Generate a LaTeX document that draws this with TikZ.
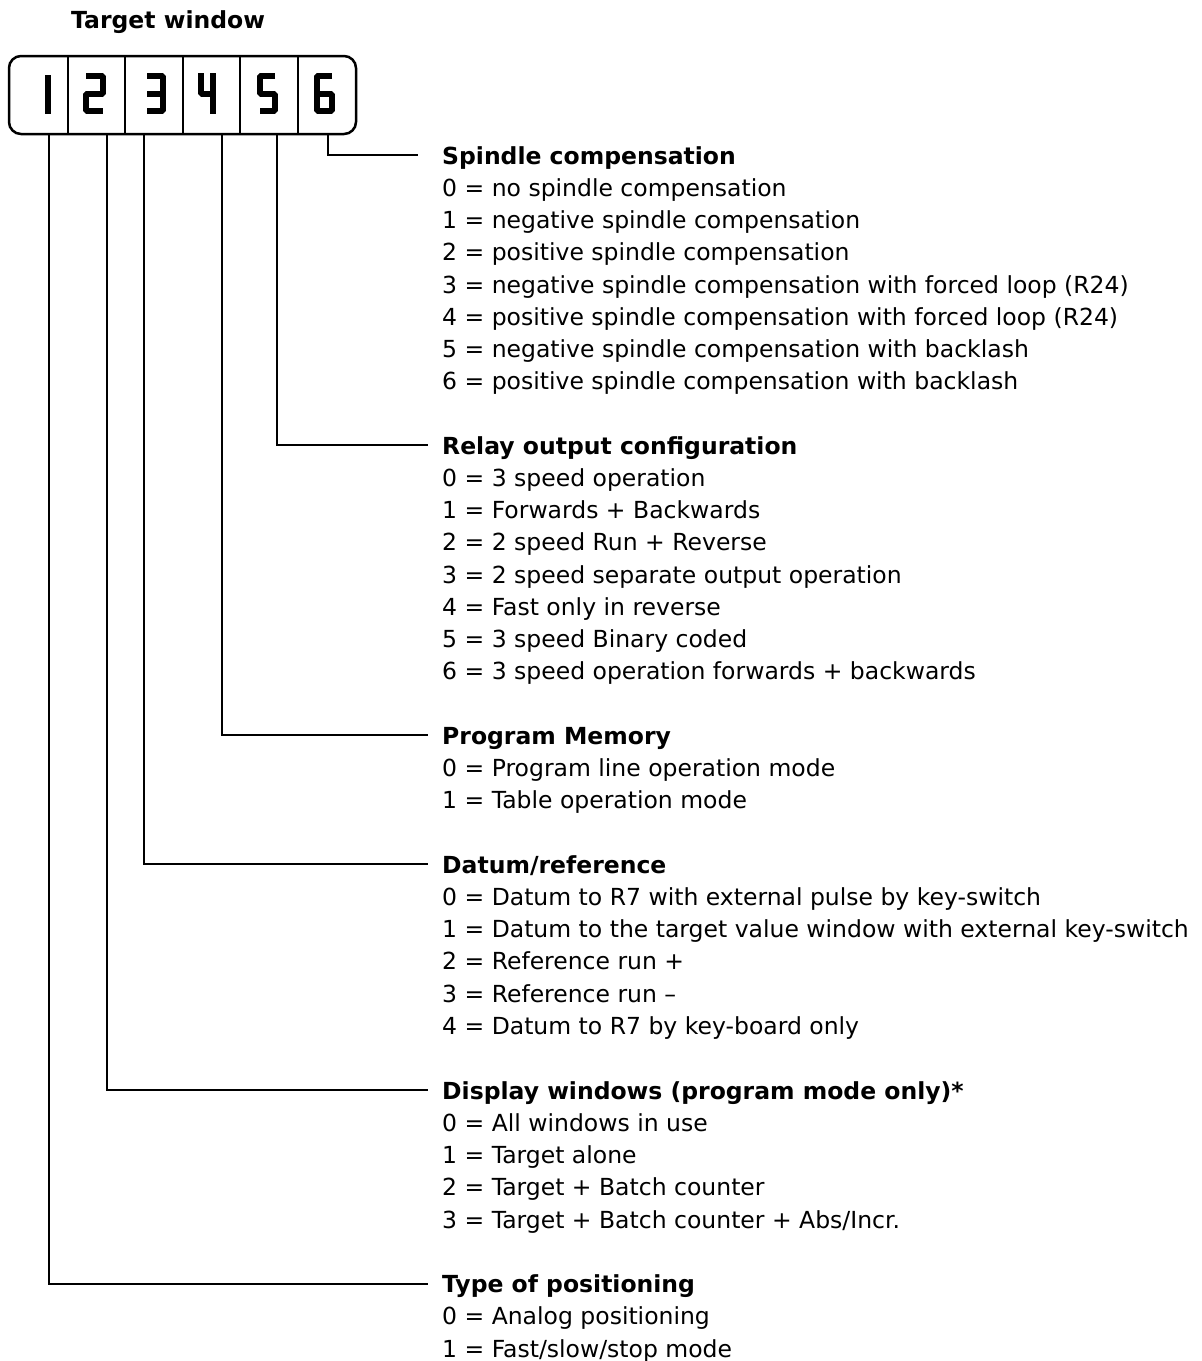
\documentclass[tikz,border=0pt]{standalone}
\usepackage{fontspec}
\setmainfont{DejaVu Sans}

\begin{document}
\begin{tikzpicture}[x=1pt, y=-1pt, every node/.style={inner sep=0pt, font=\fontsize{23.5}{28}\selectfont},
	head/.style={anchor=west, inner xsep=14pt, text height=18pt, text depth=0pt, font=\fontsize{23.5}{28}\selectfont\bfseries},
	item/.style={anchor=base west},
	lead/.style={draw=black, line width=2pt},
	seg/.style={draw=black, line width=6pt, line join=bevel}]
	\useasboundingbox (0,0) rectangle (1202,1361);
	
	\node[anchor=base west, font=\fontsize{23.5}{28}\selectfont\bfseries] (title) at (71,28.5){Target window};
	
	% window with six cells
	\draw[line width=2.5pt, rounded corners=12pt] (9,56) rectangle (356,134);
	\foreach \x in {68,125,183,240,298}
		\draw[line width=1.2pt] (\x,56) -- (\x,134);
	
	% digits
	\path[seg] (48,75) -- (48,114);
	\path[seg] (86,76) -- (103,76) -- (103,93.5) -- (86,93.5) -- (86,111) -- (103,111);
	\path[seg] (147,76) -- (163,76) -- (163,111) -- (147,111);
	\path[seg] (147,93.5) -- (163,93.5);
	\path[seg] (201,73) -- (201,93.5) -- (213,93.5);
	\path[seg] (213,73) -- (213,114);
	\path[seg] (275,76) -- (260,76) -- (260,93.5) -- (275,93.5) -- (275,111) -- (260,111);
	\path[seg] (332,76) -- (317,76) -- (317,111) -- (332,111) -- (332,93.5) -- (317,93.5);
	
	\coordinate (t1) at (49,134);
	\coordinate (t2) at (107,134);
	\coordinate (t3) at (144,134);
	\coordinate (t4) at (222,134);
	\coordinate (t5) at (277,134);
	\coordinate (t6) at (328,134);
	
	\node[head, inner xsep=24pt] (h6) at (418,155){Spindle compensation};
	\node[head] (h5) at (428,445){Relay output configuration};
	\node[head] (h4) at (428,735){Program Memory};
	\node[head] (h3) at (428,864){Datum/reference};
	\node[head] (h2) at (428,1090){Display windows (program mode only)*};
	\node[head] (h1) at (428,1283.5){Type of positioning};
	
	\foreach \t [count=\k] in {0 = no spindle compensation, 1 = negative spindle compensation, 2 = positive spindle compensation, 3 = negative spindle compensation with forced loop (R24), 4 = positive spindle compensation with forced loop (R24), 5 = negative spindle compensation with backlash, 6 = positive spindle compensation with backlash}
		\node[item] (s\k) at (442,164+32.25*\k){\t};
	\foreach \t [count=\k] in {0 = 3 speed operation, 1 = Forwards + Backwards, 2 = 2 speed Run + Reverse, 3 = 2 speed separate output operation, 4 = Fast only in reverse, 5 = 3 speed Binary coded, 6 = 3 speed operation forwards + backwards}
		\node[item] (r\k) at (442,454+32.25*\k){\t};
	\foreach \t [count=\k] in {0 = Program line operation mode, 1 = Table operation mode}
		\node[item] (p\k) at (442,744+32.25*\k){\t};
	\foreach \t [count=\k] in {0 = Datum to R7 with external pulse by key-switch, 1 = Datum to the target value window with external key-switch, 2 = Reference run +, 3 = Reference run –, 4 = Datum to R7 by key-board only}
		\node[item] (d\k) at (442,873+32.25*\k){\t};
	\foreach \t [count=\k] in {0 = All windows in use, 1 = Target alone, 2 = Target + Batch counter, 3 = Target + Batch counter + Abs/Incr.}
		\node[item] (w\k) at (442,1099+32.25*\k){\t};
	\foreach \t [count=\k] in {0 = Analog positioning, 1 = Fast/slow/stop mode}
		\node[item] (m\k) at (442,1292.5+32.25*\k){\t};
	
	\path[lead] (t6) |- (h6.west);
	\path[lead] (t5) |- (h5.west);
	\path[lead] (t4) |- (h4.west);
	\path[lead] (t3) |- (h3.west);
	\path[lead] (t2) |- (h2.west);
	\path[lead] (t1) |- (h1.west);
\end{tikzpicture}
\end{document}
